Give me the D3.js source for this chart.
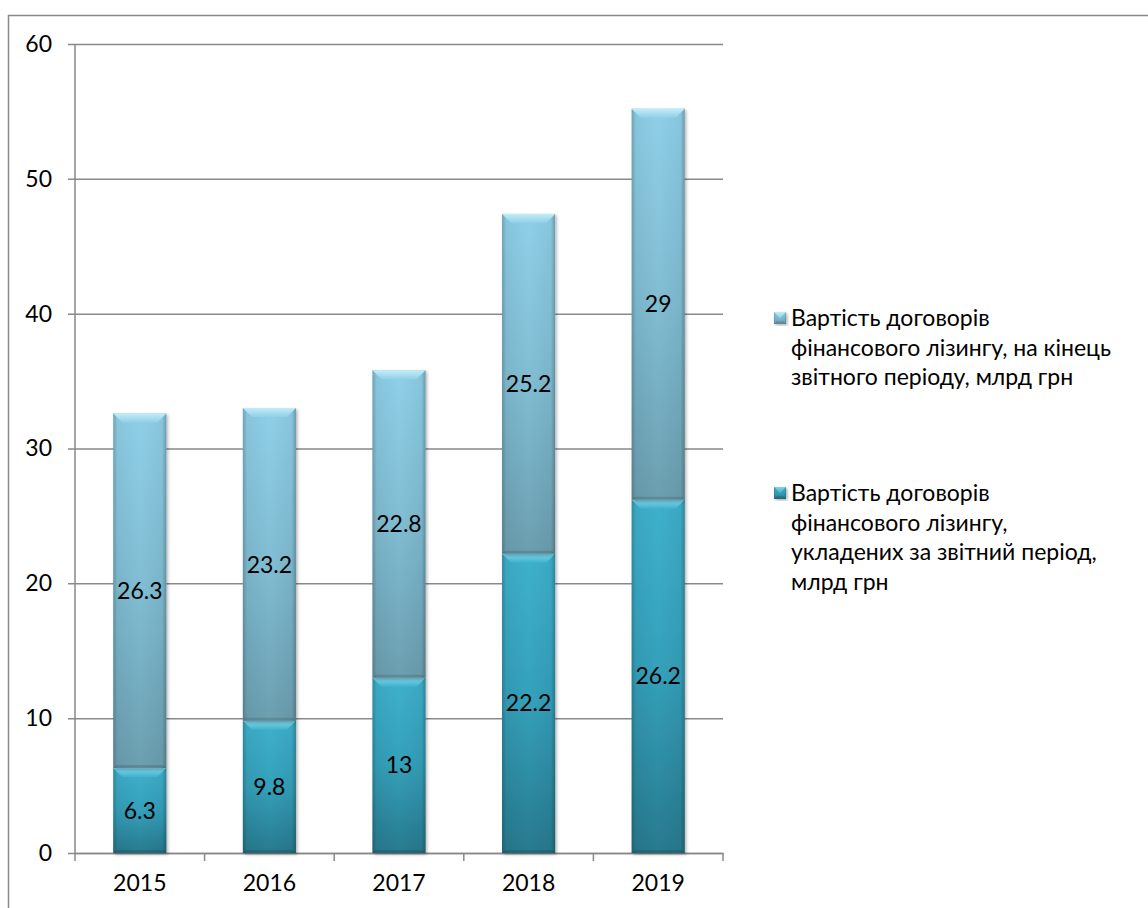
<!DOCTYPE html>
<html>
<head>
<meta charset="utf-8">
<script src="https://cdn.jsdelivr.net/npm/d3@7"></script>
<style>
  body { margin: 0; background: #fff; }
  text { font-family: Lato, "Open Sans", sans-serif; fill: #000; }
</style>
</head>
<body>
<div id="chart"></div>
<script>
// data
var years = ["2015", "2016", "2017", "2018", "2019"];
var signed = [6.3, 9.8, 13, 22.2, 26.2];     // укладених за звітний період
var endPeriod = [26.3, 23.2, 22.8, 25.2, 29]; // на кінець звітного періоду
var yTicks = [0, 10, 20, 30, 40, 50, 60];
var seriesNames = [
    ["Вартість договорів", "фінансового лізингу, на кінець", "звітного періоду, млрд грн"],
    ["Вартість договорів", "фінансового лізингу,", "укладених за звітний період,", "млрд грн"]
];

var W = 1148, H = 908;
var margin = {top: 44, right: 425, bottom: 55, left: 75};
var fs = "23px";

var svg = d3.select("#chart").append("svg")
    .attr("width", W)
    .attr("height", H);

var defs = svg.append("defs");

// gradients per series: 0 = bottom (signed), 1 = top (endPeriod)
var cols = [
    {top: "#3fb1cd", mid: "#34a0ba", bot: "#287a8f", hi: "#7fd6ea"},
    {top: "#8fd0e8", mid: "#80bdd3", bot: "#6b9fb0", hi: "#c4ecf7"}
];
cols.forEach(function(c, i) {
    var g = defs.append("linearGradient").attr("id", "body" + i)
        .attr("x1", 0).attr("y1", 0).attr("x2", 0).attr("y2", 1);
    g.append("stop").attr("offset", "0%").attr("stop-color", c.top);
    g.append("stop").attr("offset", "50%").attr("stop-color", c.mid);
    g.append("stop").attr("offset", "100%").attr("stop-color", c.bot);
    var b = defs.append("linearGradient").attr("id", "bevel" + i)
        .attr("x1", 0).attr("y1", 0).attr("x2", 0).attr("y2", 1);
    b.append("stop").attr("offset", "0%").attr("stop-color", c.hi);
    b.append("stop").attr("offset", "100%").attr("stop-color", c.top);
});
var side = defs.append("linearGradient").attr("id", "side")
    .attr("x1", 0).attr("y1", 0).attr("x2", 1).attr("y2", 0);
side.append("stop").attr("offset", "0%").attr("stop-color", "#000").attr("stop-opacity", 0.22);
side.append("stop").attr("offset", "8%").attr("stop-color", "#000").attr("stop-opacity", 0.05);
side.append("stop").attr("offset", "50%").attr("stop-color", "#000").attr("stop-opacity", 0);
side.append("stop").attr("offset", "92%").attr("stop-color", "#000").attr("stop-opacity", 0.05);
side.append("stop").attr("offset", "100%").attr("stop-color", "#000").attr("stop-opacity", 0.25);

var shadow = defs.append("filter").attr("id", "shadow")
    .attr("x", "-20%").attr("y", "-5%").attr("width", "140%").attr("height", "115%");
shadow.append("feDropShadow").attr("dx", 1.5).attr("dy", 1.5).attr("stdDeviation", 1.5)
    .attr("flood-color", "#000").attr("flood-opacity", 0.3);

// outer chart border
svg.append("path")
    .attr("d", "M8.5," + H + "V15.5H" + W)
    .attr("fill", "none").attr("stroke", "#898989").attr("stroke-width", 1.5);

var pw = W - margin.left - margin.right;
var ph = H - margin.top - margin.bottom;
var g = svg.append("g").attr("transform", "translate(" + margin.left + "," + margin.top + ")");

var x = d3.scaleBand().domain(years).range([0, pw]).paddingInner(0.59).paddingOuter(0.295);
var y = d3.scaleLinear().domain([0, 60]).range([ph, 0]);

// gridlines + y axis
var yAxis = d3.axisLeft(y).tickValues(yTicks).tickSize(-pw).tickPadding(23);
g.append("g").call(yAxis).call(function(s) {
    s.select(".domain").remove();
    s.selectAll(".tick line").attr("stroke", "#898989").attr("stroke-width", 1.5)
        .attr("x1", -7);
    s.selectAll("text").style("font-size", fs).attr("fill", "#000");
});
g.append("line").attr("x1", 0).attr("x2", 0).attr("y1", 0).attr("y2", ph)
    .attr("stroke", "#898989").attr("stroke-width", 1.5);

// x axis
var xAxis = d3.axisBottom(x).tickSize(0).tickPadding(22);
g.append("g").attr("transform", "translate(0," + ph + ")").call(xAxis).call(function(s) {
    s.select(".domain").attr("stroke", "#898989").attr("stroke-width", 1.5);
    s.selectAll("text").style("font-size", fs).attr("fill", "#000");
});
var edges = years.map(function(d) { return x(d) - x.step() * x.paddingInner() / 2; });
edges.push(pw);
g.selectAll(".xtick").data(edges).enter().append("line")
    .attr("x1", function(d) { return d; }).attr("x2", function(d) { return d; })
    .attr("y1", ph).attr("y2", ph + 8)
    .attr("stroke", "#898989").attr("stroke-width", 1.5);

// stacked segments
var segs = [];
years.forEach(function(yr, i) {
    segs.push({year: yr, s: 0, y0: 0, y1: signed[i], v: signed[i]});
    segs.push({year: yr, s: 1, y0: signed[i], y1: signed[i] + endPeriod[i], v: endPeriod[i]});
});

function drawBar(sel, bx, by, bw, bh, s) {
    var bev = Math.min(9, bh / 2);
    sel.append("rect").attr("x", bx).attr("y", by).attr("width", bw).attr("height", bh)
        .attr("fill", "url(#body" + s + ")").attr("filter", "url(#shadow)");
    sel.append("rect").attr("x", bx).attr("y", by).attr("width", bw).attr("height", bh)
        .attr("fill", "url(#side)");
    sel.append("polygon")
        .attr("points", [[bx, by], [bx + bw, by], [bx + bw - bev, by + bev], [bx + bev, by + bev]].join(" "))
        .attr("fill", "url(#bevel" + s + ")");
    sel.append("polygon")
        .attr("points", [[bx, by + bh], [bx + 3, by + bh - 3], [bx + bw - 3, by + bh - 3], [bx + bw, by + bh]].join(" "))
        .attr("fill", "#000").attr("opacity", 0.12);
}

segs.forEach(function(d) {
    var bx = x(d.year), bw = x.bandwidth();
    var by = y(d.y1), bh = y(d.y0) - y(d.y1);
    drawBar(g.append("g"), bx, by, bw, bh, d.s);
    g.append("text")
        .attr("x", bx + bw / 2)
        .attr("y", (y(d.y0) + y(d.y1)) / 2)
        .attr("dy", "0.35em")
        .attr("text-anchor", "middle")
        .style("font-size", fs)
        .text(d.v);
});

// legend
var legY = [318, 493];
seriesNames.forEach(function(lines, i) {
    var sIdx = i === 0 ? 1 : 0;
    var lg = svg.append("g");
    drawBar(lg, 774, legY[i] - 6, 12, 12, sIdx);
    lines.forEach(function(t, j) {
        lg.append("text")
            .attr("x", 791)
            .attr("y", legY[i] + j * 29.7)
            .attr("dy", "0.35em")
            .style("font-size", fs)
            .text(t);
    });
});
</script>
</body>
</html>
